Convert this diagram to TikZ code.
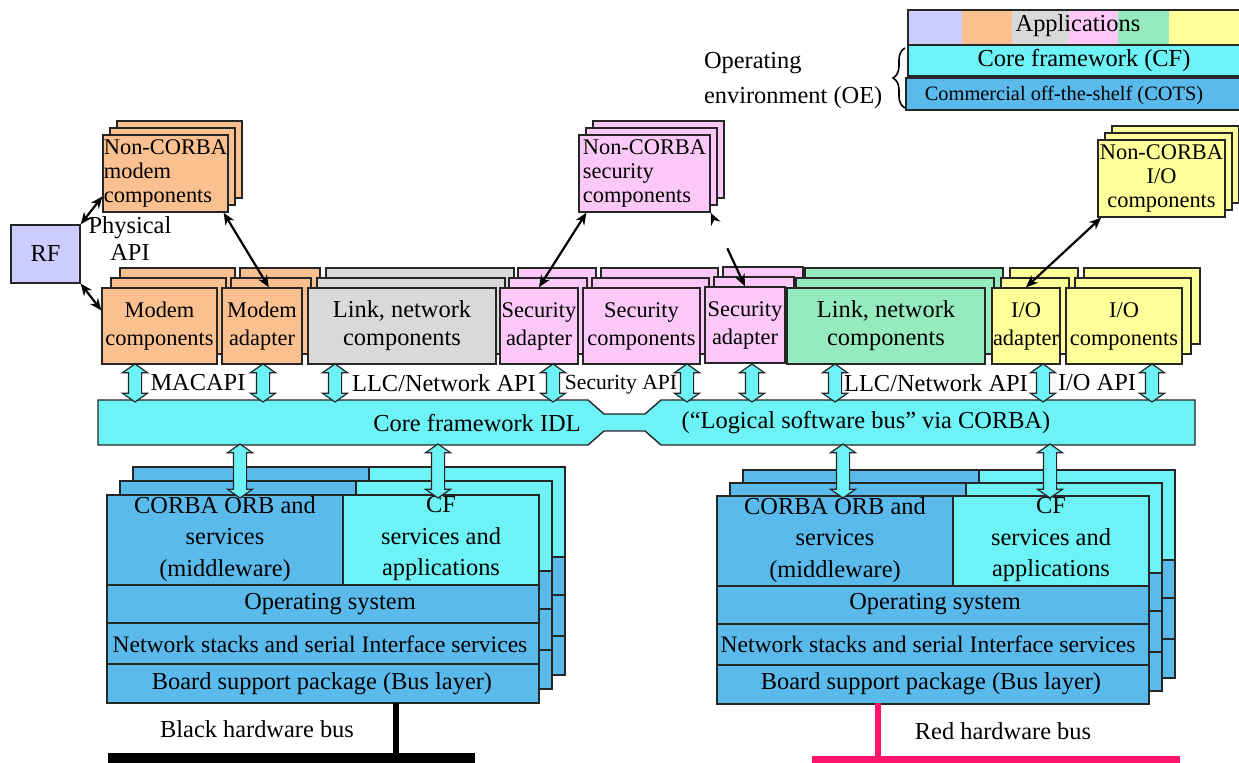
\documentclass[tikz,border=0pt]{standalone}
\usepackage{fontspec}
\setmainfont{Liberation Serif}
\usetikzlibrary{arrows.meta,shapes.arrows,shadows,decorations.pathreplacing}

\definecolor{edge}{HTML}{262626}
\definecolor{lav}{HTML}{CCCCFF}
\definecolor{orng}{HTML}{FAC090}
\definecolor{linkgray}{HTML}{D9D9D9}
\definecolor{pnk}{HTML}{FCC8F8}
\definecolor{mint}{HTML}{96EBBE}
\definecolor{ylw}{HTML}{FFFF99}
\definecolor{cfcyan}{HTML}{6DF2F5}
\definecolor{cotsblue}{HTML}{5BBAEC}
\definecolor{busred}{HTML}{FF1469}

% one card of the software stack, top-left corner at the origin
\newcommand{\stacklayers}{%
  \draw[edge, line width=0.7pt, fill=cotsblue] (0,0) rectangle (236,90);
  \draw[edge, line width=0.7pt, fill=cfcyan] (236,0) rectangle (432,90);
  \draw[edge, line width=0.7pt, fill=cotsblue] (0,90) rectangle (432,128);
  \draw[edge, line width=0.7pt, fill=cotsblue] (0,128) rectangle (432,169);
  \draw[edge, line width=0.7pt, fill=cotsblue] (0,169) rectangle (432,208);
}

\begin{document}
\begin{tikzpicture}[x=0.5pt,y=-0.5pt,
  font=\fontsize{12.2}{14}\selectfont,
  card/.style={draw=edge, line width=0.7pt, inner sep=0pt, align=center,
    font=\fontsize{11.2}{14}\selectfont},
  comp/.style={card, fill=#1, minimum height=38pt,
    double copy shadow={shadow xshift=4.5pt, shadow yshift=5pt,
    fill=#1, draw=edge, line width=0.7pt}},
  nccard/.style={card, fill=#1, minimum height=38.5pt,
    font=\fontsize{11.2}{11.9}\selectfont,
    double copy shadow={shadow xshift=3.5pt, shadow yshift=3.5pt,
    fill=#1, draw=edge, line width=0.7pt}},
  apiarr/.style={double arrow, draw=edge, fill=cfcyan, line width=0.6pt,
    rotate=90, inner xsep=0pt, inner ysep=3pt, double arrow head extend=3pt,
    double arrow tip angle=110, minimum height=19pt},
  biarrow/.style={{Stealth[length=6pt,width=5pt]}-{Stealth[length=6pt,width=5pt]},
    line width=1.1pt},
  stacktext/.style={align=center, font=\fontsize{12.2}{15.75}\selectfont}]
  \useasboundingbox (0,0) rectangle (1239,763);

  % legend
  \foreach \xa/\xb/\c in {908/962/lav,962/1012/orng,1012/1069/linkgray,
      1069/1118/pnk,1118/1169/mint,1169/1245/ylw}
    \fill[\c] (\xa,10) rectangle (\xb,45);
  \draw[edge, line width=0.7pt] (1245,10) -- (908,10) -- (908,45) -- (1245,45);
  \node (apps) at (1078,26) {Applications};
  \draw[edge, line width=0.7pt, fill=cfcyan] (908,45) rectangle (1245,76);
  \node (cfleg) at (1084,61) {Core framework (CF)};
  \draw[edge, line width=0.7pt, fill=cotsblue] (906,78) rectangle (1245,110);
  \node[font=\fontsize{10.2}{12}\selectfont] (cotsleg) at (1064,95)
    {Commercial off-the-shelf (COTS)};
  \draw[decorate, decoration={brace, amplitude=6pt}, line width=0.8pt]
    (905,108) -- (905,48);
  \node[align=left, anchor=west, font=\fontsize{12.2}{17.5}\selectfont] (oe)
    at (697,81) {Operating\\environment (OE)};

  % RF and non-CORBA parts
  \node[card, fill=lav, font=\fontsize{12.2}{14}\selectfont,
    minimum width=34.5pt, minimum height=29pt] (rf) at (45.5,254) {RF};
  \node[align=center, font=\fontsize{12.2}{13.5}\selectfont] (phy) at (130,239)
    {Physical\\API};
  \node[nccard=orng, align=left, minimum width=62.5pt] (ncmodem)
    at (165.5,173.5) {Non-CORBA\\modem\\components};
  \node[nccard=pnk, align=left, minimum width=65.5pt] (ncsec)
    at (644.5,173.5) {Non-CORBA\\security\\components};
  \node[nccard=ylw, minimum width=63.5pt] (ncio)
    at (1161.5,178.5) {Non-CORBA\\I/O\\components};

  % component row
  \node[comp=orng, minimum width=57.5pt] (modemc) at (159.5,326) {Modem\\components};
  \node[comp=orng, minimum width=40pt] (modema) at (262,326) {Modem\\adapter};
  \node[comp=linkgray, font=\fontsize{12.2}{14}\selectfont, minimum width=94pt]
    (linkl) at (402,326) {Link, network\\components};
  \node[comp=pnk, minimum width=39pt] (secad1) at (539,326) {Security\\adapter};
  \node[comp=pnk, minimum width=58.5pt] (secc) at (641.5,326) {Security\\components};
  \node[comp=pnk, minimum width=40pt] (secad2) at (745,325) {Security\\adapter};
  \node[comp=mint, font=\fontsize{12.2}{14}\selectfont, minimum width=99pt]
    (linkr) at (886,326) {Link, network\\components};
  \node[comp=ylw, minimum width=34pt] (ioad) at (1026,326) {I/O\\adapter};
  \node[comp=ylw, minimum width=58pt] (ioc) at (1124,326) {I/O\\components};

  \draw[biarrow] (rf.north east) -- (ncmodem.200);
  \draw[biarrow] (rf.south east) -- (modemc.165);
  \draw[biarrow] (ncmodem.-34) -- (modema.80);
  \draw[biarrow] (ncsec.-146) -- (secad1.north);
  \draw[biarrow, dash pattern=on 0pt off 16pt on 30pt] (ncsec.south east) -- (secad2.north);
  \draw[biarrow] (ncio.-147) -- (ioad.north);

  % core framework bus
  \draw[edge, line width=0.7pt, fill=cfcyan] (98,400) -- (588,400) -- (604,414)
    -- (645,414) -- (661,400) -- (1195,400) -- (1195,445) -- (661,445)
    -- (645,431) -- (604,431) -- (588,445) -- (98,445) -- cycle;
  \node (cfidl) at (477,423) {Core framework IDL};
  \node (swbus) at (866,423) {(“Logical software bus” via CORBA)};

  \foreach \x [count=\i] in {135,263,335,553,687,752,835,1043,1152}
    \node[apiarr] (api\i) at (\x,383) {};
  \node (macapi) at (198,383) {MACAPI};
  \node (llcl) at (444,383) {LLC/Network API};
  \node[font=\fontsize{10.8}{13}\selectfont] (secapi) at (621,385) {Security API};
  \node (llcr) at (936,383) {LLC/Network API};
  \node (ioapi) at (1097,383) {I/O API};

  % black and red stacks
  \foreach \d in {2,1,0} {
    \begin{scope}[shift={({107+13*\d},{495-14*\d})}] \stacklayers \end{scope}
    \begin{scope}[shift={({717+13*\d},{496-13*\d})}] \stacklayers \end{scope}
  }
  \node[stacktext] (orbl) at (225,539) {CORBA ORB and\\services\\(middleware)};
  \node[stacktext] (cfl) at (441,539) {CF\\services and\\applications};
  \node (osl) at (330,604) {Operating system};
  \node[font=\fontsize{11.8}{14}\selectfont] (netl) at (320,644)
    {Network stacks and serial Interface services};
  \node (bspl) at (322,684) {Board support package (Bus layer)};
  \node[stacktext] (orbr) at (835,540) {CORBA ORB and\\services\\(middleware)};
  \node[stacktext] (cfr) at (1051,540) {CF\\services and\\applications};
  \node (osr) at (935,604) {Operating system};
  \node[font=\fontsize{11.8}{14}\selectfont] (netr) at (928,644)
    {Network stacks and serial Interface services};
  \node (bspr) at (931,684) {Board support package (Bus layer)};

  \foreach \x [count=\i] in {240,438,843,1050}
    \node[apiarr, minimum height=27pt] (dn\i) at (\x,471) {};

  % hardware buses
  \coordinate (bjoin) at (396,703);
  \coordinate (bfoot) at (396,756);
  \draw[line width=3pt] (bjoin) -- (bfoot);
  \fill (108,753) rectangle (475,766);
  \node (blackbus) at (257,729) {Black hardware bus};
  \coordinate (rjoin) at (878,703);
  \coordinate (rfoot) at (878,758);
  \draw[busred, line width=3pt] (rjoin) -- (rfoot);
  \fill[busred] (812,756) rectangle (1180,766);
  \node (redbus) at (1003,731) {Red hardware bus};
\end{tikzpicture}
\end{document}
